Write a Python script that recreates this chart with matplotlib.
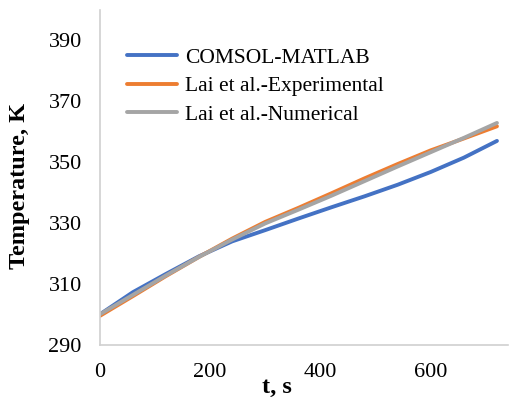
import matplotlib.pyplot as plt
import numpy as np

t = [0, 60, 120, 180, 240, 300, 360, 420, 480, 540, 600, 660, 720]
comsol = [300.0, 307.3, 313.3, 319.1, 324.0, 327.7, 331.5, 335.2, 338.8, 342.6, 346.8, 351.5, 357.0]
lai_exp = [299.5, 306.0, 312.6, 318.9, 324.9, 330.4, 335.0, 339.8, 344.7, 349.4, 353.9, 357.8, 361.8]
lai_num = [300.0, 306.4, 312.8, 318.9, 324.6, 329.9, 334.4, 339.0, 343.8, 348.6, 353.3, 358.0, 362.9]

plt.rcParams['font.family'] = ['Liberation Serif', 'DejaVu Serif']

fig = plt.figure(figsize=(5.09, 4.01), dpi=100)
ax = fig.add_axes([0.196, 0.140, 0.802, 0.835])

ax.plot(t, comsol, color="#4472c4", lw=2.8, label="COMSOL-MATLAB", solid_capstyle="round")
ax.plot(t, lai_exp, color="#ed7d31", lw=2.8, label="Lai et al.-Experimental", solid_capstyle="round")
ax.plot(t, lai_num, color="#a5a5a5", lw=2.8, label="Lai et al.-Numerical", solid_capstyle="round")

ax.set_xlim(0, 740)
ax.set_ylim(290, 400)
ax.set_xticks([0, 200, 400, 600])
ax.set_yticks(np.arange(290, 391, 20))
ax.tick_params(length=0, labelsize=16)
ax.tick_params(axis="x", pad=13)
ax.tick_params(axis="y", pad=13)

for s in ["top", "right"]:
    ax.spines[s].set_visible(False)
for s in ["left", "bottom"]:
    ax.spines[s].set_color("#d0d0d0")
    ax.spines[s].set_linewidth(1.2)

ax.set_xlabel("t, s", fontsize=17.5, fontweight="bold")
ax.xaxis.set_label_coords(0.434, -0.095)
ax.set_ylabel("Temperature, K", fontsize=17.5, fontweight="bold")
ax.yaxis.set_label_coords(-0.17, 0.475)

ax.legend(loc="upper left", bbox_to_anchor=(0.02, 0.946), frameon=False, fontsize=15.5,
          handlelength=2.3, handletextpad=0.37, labelspacing=0.40)

fig.savefig("out.png", dpi=100)
